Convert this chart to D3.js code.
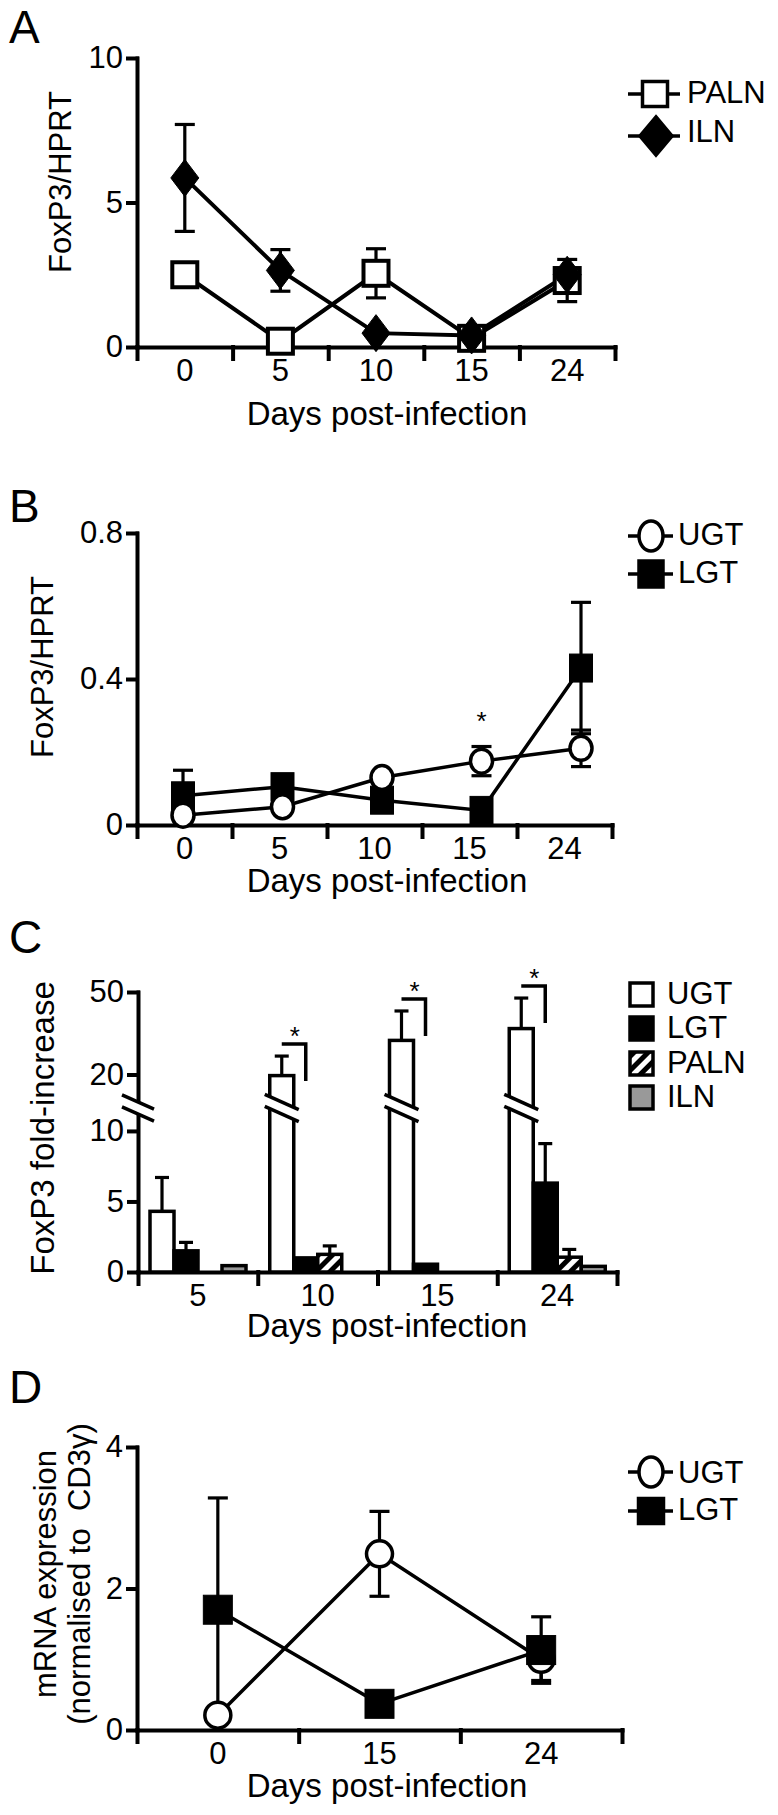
<!DOCTYPE html>
<html><head><meta charset="utf-8">
<script src="https://cdn.jsdelivr.net/npm/d3@7"></script>
<style>body{margin:0;background:#fff}svg{display:block}</style>
</head><body>
<svg id="c" width="778" height="1815"></svg>
<script>
// ---------- DATA ----------
const aDays = ["0","5","10","15","24"];
const aPALN = [2.5, 0.2, 2.55, 0.3, 2.3];
const aPALNerr = [0.15, 0.1, 0.85, 0.1, 0.73];
const aILN = [5.85, 2.65, 0.48, 0.4, 2.5];
const aILNerr = [1.85, 0.72, 0.1, 0.1, 0.15];
const aYTicks = [0, 5, 10];

const bDays = ["0","5","10","15","24"];
const bUGT = [0.027, 0.05, 0.13, 0.175, 0.21];
const bUGTerr = [0.01, 0.01, 0.01, 0.04, 0.05];
const bLGT = [0.08, 0.105, 0.068, 0.04, 0.43];
const bLGTerr = [0.07, 0.01, 0.01, 0.01, 0.18];
const bYTicks = [0, 0.4, 0.8];
const bSig = ["15"];

const cDays = ["5","10","15","24"];
const cSeries = ["UGT","LGT","PALN","ILN"];
const cUGT = [4.3, 19.6, 32.4, 36.7];
const cUGTerr = [2.4, 7.1, 10.7, 11.1];
const cLGT = [1.5, 1.0, 0.55, 6.3];
const cLGTerr = [0.6, 0, 0, 2.8];
const cPALN = [0, 1.25, 0, 1.05];
const cPALNerr = [0, 0.6, 0, 0.55];
const cILN = [0.45, 0, 0, 0.4];
const cILNerr = [0, 0, 0, 0];
const cYTicksLow = [0, 5, 10];
const cYTicksHigh = [20, 50];
const cSig = ["10","15","24"];

const dDays = ["0","15","24"];
const dUGT = [0.21, 2.49, 1.0];
const dUGTerr = [0.05, 0.6, 0.3];
const dLGT = [1.70, 0.37, 1.13];
const dLGTerr = [1.58, 0.05, 0.47];
const dYTicks = [0, 2, 4];

// ---------- HELPERS ----------
const svg = d3.select("#c");
const F = "'Liberation Sans', Arial, Helvetica, sans-serif";
const AXW = 4;

const defs = svg.append("defs");
const pat = defs.append("pattern").attr("id","hatch").attr("patternUnits","userSpaceOnUse")
  .attr("width",10).attr("height",10).attr("patternTransform","rotate(45)");
pat.append("rect").attr("width",10).attr("height",10).attr("fill","#fff");
pat.append("rect").attr("width",5).attr("height",10).attr("fill","#000");

function styleAxis(g){
  g.attr("font-family",F).attr("font-size",31);
  g.selectAll("path,line").attr("stroke","#000").attr("stroke-width",AXW).attr("stroke-linecap","square");
  g.selectAll("text").attr("fill","#000");
}
function yAxis(x, scale, ticks){
  const g = svg.append("g").attr("transform",`translate(${x},0)`)
    .call(d3.axisLeft(scale).tickValues(ticks).tickSize(9).tickSizeOuter(0).tickPadding(5).tickFormat(d=>String(d)));
  styleAxis(g);
  return g;
}
function xAxis(y, band){
  const n = band.domain().length;
  const lin = d3.scaleLinear().domain([0,n]).range(band.range());
  const g = svg.append("g").attr("transform",`translate(0,${y})`)
    .call(d3.axisBottom(lin).tickValues(d3.range(n+1)).tickSize(12).tickSizeOuter(0).tickFormat(""));
  styleAxis(g);
  svg.append("g").selectAll("text").data(band.domain()).join("text")
    .attr("x", d=>band(d)+band.bandwidth()/2).attr("y", y+34)
    .attr("text-anchor","middle").attr("font-family",F).attr("font-size",31).text(d=>d);
}
function xTitle(y){
  svg.append("text").attr("x",387).attr("y",y).attr("text-anchor","middle")
    .attr("font-family",F).attr("font-size",33).text("Days post-infection");
}
function yTitle(x, y, t, size){
  svg.append("text").attr("transform",`translate(${x},${y}) rotate(-90)`).attr("text-anchor","middle")
    .attr("font-family",F).attr("font-size",size||32).style("white-space","pre").text(t);
}
function letter(t, y){
  svg.append("text").attr("x",9).attr("y",y).attr("font-family",F).attr("font-size",46).text(t);
}
function seriesLine(xs, ys, vals, sw){
  svg.append("path").datum(vals)
    .attr("d", d3.line().x((d,i)=>xs(i)).y(d=>ys(d)))
    .attr("fill","none").attr("stroke","#000").attr("stroke-width",sw);
}
function errBars(xs, ys, vals, errs, cap){
  const g = svg.append("g").attr("stroke","#000").attr("stroke-width",3.2);
  const data = vals.map((v,i)=>({i, lo:v-errs[i], hi:v+errs[i]}));
  g.selectAll("line.v").data(data).join("line").attr("class","v")
    .attr("x1",d=>xs(d.i)).attr("x2",d=>xs(d.i)).attr("y1",d=>ys(d.lo)).attr("y2",d=>ys(d.hi));
  g.selectAll("line.t").data(data).join("line").attr("class","t")
    .attr("x1",d=>xs(d.i)-cap/2).attr("x2",d=>xs(d.i)+cap/2).attr("y1",d=>ys(d.hi)).attr("y2",d=>ys(d.hi));
  g.selectAll("line.b").data(data).join("line").attr("class","b")
    .attr("x1",d=>xs(d.i)-cap/2).attr("x2",d=>xs(d.i)+cap/2).attr("y1",d=>ys(d.lo)).attr("y2",d=>ys(d.lo));
}
function marker(g, shape, cx, cy, w, h, fill, sw){
  if(shape==="square"){
    g.append("rect").attr("x",cx-w/2).attr("y",cy-h/2).attr("width",w).attr("height",h)
      .attr("fill",fill).attr("stroke","#000").attr("stroke-width",sw);
  } else if(shape==="diamond"){
    g.append("polygon").attr("points",`${cx},${cy-h/2} ${cx+w/2},${cy} ${cx},${cy+h/2} ${cx-w/2},${cy}`)
      .attr("fill",fill).attr("stroke","#000").attr("stroke-width",sw);
  } else {
    g.append("ellipse").attr("cx",cx).attr("cy",cy).attr("rx",w/2).attr("ry",h/2)
      .attr("fill",fill).attr("stroke","#000").attr("stroke-width",sw);
  }
}
function markers(xs, ys, vals, shape, w, h, fill, sw){
  const g = svg.append("g");
  vals.forEach((v,i)=>marker(g, shape, xs(i), ys(v), w, h, fill, sw));
}
function legendRow(cx, cy, y, shape, w, h, fill, label, tx, x0, x1){
  const g = svg.append("g");
  g.append("line").attr("x1",x0).attr("x2",x1).attr("y1",cy).attr("y2",cy).attr("stroke","#000").attr("stroke-width",3.5);
  marker(g, shape, cx, cy, w, h, fill, 3.5);
  g.append("text").attr("x",tx).attr("y",y).attr("font-family",F).attr("font-size",31).text(label);
}

// ---------- PANEL A ----------
{
  const x = d3.scaleBand().domain(aDays).range([137,615]);
  const xs = i => x(aDays[i]) + x.bandwidth()/2;
  const y = d3.scaleLinear().domain([0,10]).range([347,58]);
  letter("A", 43);
  yAxis(137, y, aYTicks);
  xAxis(347, x);
  yTitle(71, 182, "FoxP3/HPRT", 31);
  xTitle(425);
  seriesLine(xs, y, aPALN, 4);
  seriesLine(xs, y, aILN, 4);
  errBars(xs, y, aPALN, aPALNerr, 20);
  errBars(xs, y, aILN, aILNerr, 20);
  markers(xs, y, aPALN, "square", 25, 25, "#fff", 4);
  markers(xs, y, aILN, "diamond", 28, 37, "#000", 1);
  legendRow(655, 94, 103, "square", 25, 25, "#fff", "PALN", 687, 628, 680);
  legendRow(656, 136, 142, "diamond", 32, 38, "#000", "ILN", 687, 628, 680);
}

// ---------- PANEL B ----------
{
  const x = d3.scaleBand().domain(bDays).range([137,612]);
  const xp = d3.scalePoint().domain(bDays).range([183,581]);
  const xs = i => xp(bDays[i]);
  const y = d3.scaleLinear().domain([0,0.8]).range([825,533]);
  letter("B", 522);
  yAxis(137, y, bYTicks);
  xAxis(825, x);
  yTitle(53, 667, "FoxP3/HPRT", 31);
  xTitle(892);
  seriesLine(xs, y, bLGT, 3.5);
  seriesLine(xs, y, bUGT, 3.5);
  errBars(xs, y, bLGT, bLGTerr, 20);
  errBars(xs, y, bUGT, bUGTerr, 20);
  markers(xs, y, bLGT, "square", 23, 28, "#000", 1);
  markers(xs, y, bUGT, "circle", 22, 24, "#fff", 3.5);
  bSig.forEach(d=>{
    const i = bDays.indexOf(d);
    svg.append("text").attr("x",xs(i)).attr("y",y(bUGT[i]+bUGTerr[i])-17).attr("text-anchor","middle")
      .attr("font-family",F).attr("font-size",26).text("*");
  });
  legendRow(651, 536, 545, "circle", 24, 30, "#fff", "UGT", 678, 628, 673);
  legendRow(651, 574, 583, "square", 24, 26, "#000", "LGT", 678, 628, 673);
}

// ---------- PANEL C ----------
{
  const x = d3.scaleBand().domain(cDays).range([138,617]);
  const x1 = d3.scaleBand().domain(cSeries).range([12,108]);
  const lo = d3.scaleLinear().domain([0,11.2]).range([1272,1114]);
  const hi = d3.scaleLinear().domain([10,50]).range([1102,992]);
  const y = v => v <= 11.2 ? lo(v) : hi(v);
  const fills = {UGT:"#fff", LGT:"#000", PALN:"url(#hatch)", ILN:"#999"};
  const vals = {UGT:cUGT, LGT:cLGT, PALN:cPALN, ILN:cILN};
  const errs = {UGT:cUGTerr, LGT:cLGTerr, PALN:cPALNerr, ILN:cILNerr};
  letter("C", 953);
  yAxis(138, lo, cYTicksLow);
  yAxis(138, hi, cYTicksHigh);
  xAxis(1272, x);
  yTitle(54, 1128, "FoxP3 fold-increase", 33);
  xTitle(1337);

  const bars = [];
  cSeries.forEach(s=>cDays.forEach((d,i)=>{ if(vals[s][i]>0) bars.push({s,d,v:vals[s][i],e:errs[s][i]}); }));
  const eg = svg.append("g").attr("stroke","#000").attr("stroke-width",3.2);
  bars.filter(b=>b.e>0).forEach(b=>{
    const cx = x(b.d)+x1(b.s)+x1.bandwidth()/2;
    eg.append("line").attr("x1",cx).attr("x2",cx).attr("y1",y(b.v)).attr("y2",y(b.v+b.e));
    eg.append("line").attr("x1",cx-7).attr("x2",cx+7).attr("y1",y(b.v+b.e)).attr("y2",y(b.v+b.e));
  });
  svg.append("g").selectAll("rect").data(bars).join("rect")
    .attr("x",b=>x(b.d)+x1(b.s)).attr("width",x1.bandwidth())
    .attr("y",b=>y(b.v)).attr("height",b=>lo(0)-y(b.v))
    .attr("fill",b=>fills[b.s]).attr("stroke","#000").attr("stroke-width",3.5);

  const yU = hi.range()[0], yL = lo.range()[1];
  function brk(cx, hw){
    const s = 0.45*hw;
    svg.append("polygon").attr("points",`${cx-hw},${yU-s} ${cx+hw},${yU+s} ${cx+hw},${yL+s} ${cx-hw},${yL-s}`).attr("fill","#fff");
    [yU,yL].forEach(yy=>svg.append("line").attr("x1",cx-hw).attr("x2",cx+hw).attr("y1",yy-s).attr("y2",yy+s)
      .attr("stroke","#000").attr("stroke-width",3.5));
  }
  brk(138, 16);
  bars.filter(b=>b.v>11.2).forEach(b=>brk(x(b.d)+x1(b.s)+x1.bandwidth()/2, 17));

  cSig.forEach(d=>{
    const i = cDays.indexOf(d);
    const xa = x(d)+x1("UGT")+x1.bandwidth()/2, xb = x(d)+x1("LGT")+x1.bandwidth()/2;
    const yt = y(cUGT[i]+cUGTerr[i]) - 12;
    svg.append("path").attr("d",`M${xa},${yt}H${xb}V${yt+37}`).attr("fill","none").attr("stroke","#000").attr("stroke-width",3.5);
    svg.append("text").attr("x",(xa+xb)/2+1).attr("y",yt+1).attr("text-anchor","middle")
      .attr("font-family",F).attr("font-size",26).text("*");
  });

  const lg = svg.append("g");
  const rows = [983, 1017, 1052, 1086];
  cSeries.forEach((s,k)=>{
    lg.append("rect").attr("x",630).attr("y",rows[k]).attr("width",23).attr("height",23)
      .attr("fill",fills[s]).attr("stroke","#000").attr("stroke-width",3.5);
    lg.append("text").attr("x",667).attr("y",rows[k]+21).attr("font-family",F).attr("font-size",31).text(s);
  });
}

// ---------- PANEL D ----------
{
  const x = d3.scaleBand().domain(dDays).range([137,622]);
  const xs = i => x(dDays[i]) + x.bandwidth()/2;
  const y = d3.scaleLinear().domain([0,4]).range([1730,1447]);
  letter("D", 1403);
  yAxis(137, y, dYTicks);
  xAxis(1730, x);
  yTitle(56, 1574, "mRNA expression", 31);
  yTitle(90, 1574, "(normalised to  CD3γ)", 31);
  xTitle(1797);
  seriesLine(xs, y, dUGT, 3.5);
  seriesLine(xs, y, dLGT, 3.5);
  errBars(xs, y, dUGT, dUGTerr, 20);
  errBars(xs, y, dLGT, dLGTerr, 20);
  markers(xs, y, dUGT, "circle", 26, 26, "#fff", 3.5);
  markers(xs, y, dLGT, "square", 29, 29, "#000", 1);
  legendRow(651, 1472, 1483, "circle", 24, 30, "#fff", "UGT", 678, 628, 673);
  legendRow(651, 1511, 1520, "square", 25, 25, "#000", "LGT", 678, 628, 673);
}
</script>
</body></html>
